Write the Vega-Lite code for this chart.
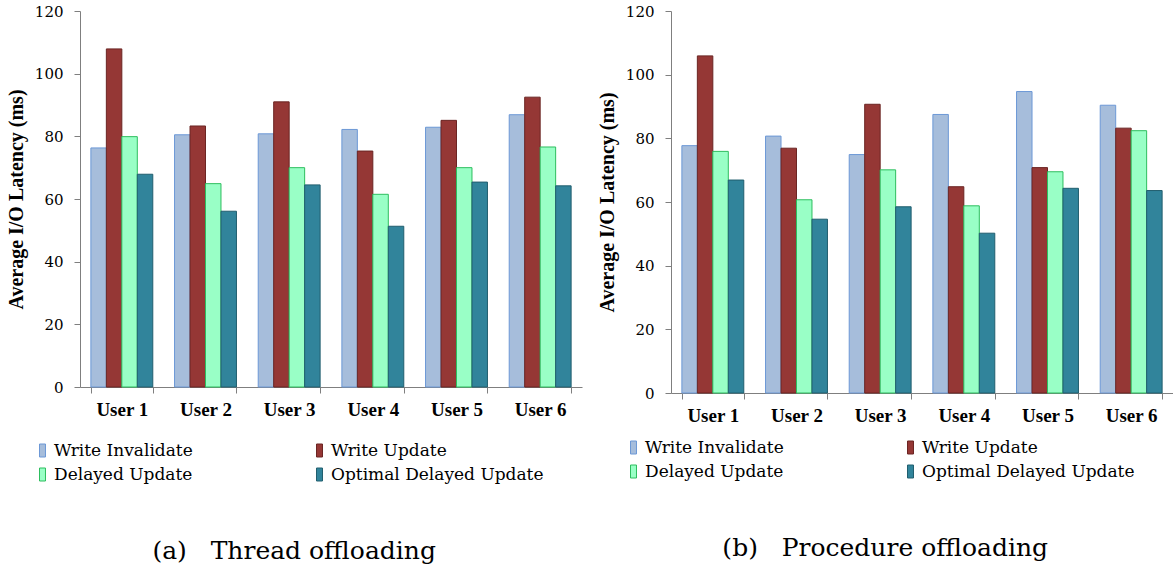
{
  "$schema": "https://vega.github.io/schema/vega-lite/v6.json",
  "padding": {"left": 6, "top": 4, "right": 0, "bottom": 0},
  "background": "white",
  "spacing": 15,
  "config": {
    "view": {"stroke": null},
    "axis": {
      "domainColor": "#7f7f7f",
      "tickColor": "#7f7f7f",
      "tickSize": 6,
      "labelColor": "#000000",
      "titleColor": "#000000",
      "titleFont": "Liberation Serif",
      "grid": false
    },
    "legend": {
      "labelFont": "DejaVu Serif",
      "labelFontSize": 17,
      "labelColor": "#000000",
      "labelLimit": 400
    }
  },
  "data": {
    "values": [
      {"panel": "a", "user": "User 1", "series": "Write Invalidate", "value": 76.3},
      {"panel": "a", "user": "User 1", "series": "Write Update", "value": 107.9},
      {"panel": "a", "user": "User 1", "series": "Delayed Update", "value": 79.9},
      {"panel": "a", "user": "User 1", "series": "Optimal Delayed Update", "value": 67.9},
      {"panel": "a", "user": "User 2", "series": "Write Invalidate", "value": 80.5},
      {"panel": "a", "user": "User 2", "series": "Write Update", "value": 83.3},
      {"panel": "a", "user": "User 2", "series": "Delayed Update", "value": 64.9},
      {"panel": "a", "user": "User 2", "series": "Optimal Delayed Update", "value": 56.1},
      {"panel": "a", "user": "User 3", "series": "Write Invalidate", "value": 80.8},
      {"panel": "a", "user": "User 3", "series": "Write Update", "value": 91.0},
      {"panel": "a", "user": "User 3", "series": "Delayed Update", "value": 70.0},
      {"panel": "a", "user": "User 3", "series": "Optimal Delayed Update", "value": 64.5},
      {"panel": "a", "user": "User 4", "series": "Write Invalidate", "value": 82.2},
      {"panel": "a", "user": "User 4", "series": "Write Update", "value": 75.3},
      {"panel": "a", "user": "User 4", "series": "Delayed Update", "value": 61.5},
      {"panel": "a", "user": "User 4", "series": "Optimal Delayed Update", "value": 51.3},
      {"panel": "a", "user": "User 5", "series": "Write Invalidate", "value": 82.9},
      {"panel": "a", "user": "User 5", "series": "Write Update", "value": 85.1},
      {"panel": "a", "user": "User 5", "series": "Delayed Update", "value": 70.0},
      {"panel": "a", "user": "User 5", "series": "Optimal Delayed Update", "value": 65.4},
      {"panel": "a", "user": "User 6", "series": "Write Invalidate", "value": 86.9},
      {"panel": "a", "user": "User 6", "series": "Write Update", "value": 92.5},
      {"panel": "a", "user": "User 6", "series": "Delayed Update", "value": 76.6},
      {"panel": "a", "user": "User 6", "series": "Optimal Delayed Update", "value": 64.2},
      {"panel": "b", "user": "User 1", "series": "Write Invalidate", "value": 77.7},
      {"panel": "b", "user": "User 1", "series": "Write Update", "value": 105.9},
      {"panel": "b", "user": "User 1", "series": "Delayed Update", "value": 75.9},
      {"panel": "b", "user": "User 1", "series": "Optimal Delayed Update", "value": 66.9},
      {"panel": "b", "user": "User 2", "series": "Write Invalidate", "value": 80.7},
      {"panel": "b", "user": "User 2", "series": "Write Update", "value": 76.9},
      {"panel": "b", "user": "User 2", "series": "Delayed Update", "value": 60.7},
      {"panel": "b", "user": "User 2", "series": "Optimal Delayed Update", "value": 54.6},
      {"panel": "b", "user": "User 3", "series": "Write Invalidate", "value": 74.9},
      {"panel": "b", "user": "User 3", "series": "Write Update", "value": 90.7},
      {"panel": "b", "user": "User 3", "series": "Delayed Update", "value": 70.1},
      {"panel": "b", "user": "User 3", "series": "Optimal Delayed Update", "value": 58.5},
      {"panel": "b", "user": "User 4", "series": "Write Invalidate", "value": 87.5},
      {"panel": "b", "user": "User 4", "series": "Write Update", "value": 64.8},
      {"panel": "b", "user": "User 4", "series": "Delayed Update", "value": 58.8},
      {"panel": "b", "user": "User 4", "series": "Optimal Delayed Update", "value": 50.2},
      {"panel": "b", "user": "User 5", "series": "Write Invalidate", "value": 94.7},
      {"panel": "b", "user": "User 5", "series": "Write Update", "value": 70.8},
      {"panel": "b", "user": "User 5", "series": "Delayed Update", "value": 69.5},
      {"panel": "b", "user": "User 5", "series": "Optimal Delayed Update", "value": 64.3},
      {"panel": "b", "user": "User 6", "series": "Write Invalidate", "value": 90.4},
      {"panel": "b", "user": "User 6", "series": "Write Update", "value": 83.2},
      {"panel": "b", "user": "User 6", "series": "Delayed Update", "value": 82.4},
      {"panel": "b", "user": "User 6", "series": "Optimal Delayed Update", "value": 63.6}
    ]
  },
  "resolve": {
    "scale": {"fill": "independent", "stroke": "independent"},
    "legend": {"fill": "independent", "stroke": "independent"}
  },
  "hconcat": [
    {
      "width": 502,
      "height": 376,
      "transform": [{"filter": "datum.panel == 'a'"}],
      "title": {"text": "(a)\u00a0\u00a0\u00a0Thread offloading", "orient": "bottom", "anchor": "middle", "frame": "bounds", "font": "DejaVu Serif", "fontSize": 25, "fontWeight": "normal", "color": "#000000", "offset": 56},
      "mark": {"type": "bar", "strokeWidth": 1},
      "encoding": {
        "x": {"field": "user", "type": "nominal", "scale": {"paddingInner": 0.26, "paddingOuter": 0.13},
          "axis": {"title": null, "labelAngle": 0, "tickBand": "extent", "labelFont": "Liberation Serif", "labelFontSize": 19, "labelFontWeight": "bold", "labelPadding": 7}},
        "xOffset": {"field": "series", "type": "nominal", "sort": ["Write Invalidate", "Write Update", "Delayed Update", "Optimal Delayed Update"], "scale": {"paddingInner": 0, "paddingOuter": 0}},
        "y": {"field": "value", "type": "quantitative", "scale": {"domain": [0, 120]},
          "axis": {"title": "Average I/O Latency (ms)", "values": [0, 20, 40, 60, 80, 100, 120], "labelFont": "DejaVu Serif", "labelFontSize": 15, "labelPadding": 11, "titleFontSize": 20, "titleFontWeight": "bold", "titlePadding": 8}},
        "fill": {"field": "series", "type": "nominal",
          "scale": {"domain": ["Write Invalidate", "Write Update", "Delayed Update", "Optimal Delayed Update"], "range": ["#A6BDDB", "#953735", "#99FFC6", "#31849B"]},
          "legend": {"title": null, "orient": "none", "direction": "horizontal", "legendX": -46, "legendY": 431, "columns": 2, "symbolType": "M-0.46,-1H0.46V1H-0.46Z", "symbolSize": 169, "symbolStrokeWidth": 1, "labelOffset": 3, "columnPadding": 118, "rowPadding": 6}},
        "stroke": {"field": "series", "type": "nominal",
          "scale": {"domain": ["Write Invalidate", "Write Update", "Delayed Update", "Optimal Delayed Update"], "range": ["#6C98D6", "#6B2523", "#2DBE5E", "#215E6E"]},
          "legend": {"title": null, "orient": "none", "direction": "horizontal", "legendX": -46, "legendY": 431, "columns": 2, "symbolType": "M-0.46,-1H0.46V1H-0.46Z", "symbolSize": 169, "symbolStrokeWidth": 1, "labelOffset": 3, "columnPadding": 118, "rowPadding": 6}}
      }
    },
    {
      "width": 502,
      "height": 382,
      "transform": [{"filter": "datum.panel == 'b'"}],
      "title": {"text": "(b)\u00a0\u00a0\u00a0Procedure offloading", "orient": "bottom", "anchor": "middle", "frame": "bounds", "font": "DejaVu Serif", "fontSize": 25, "fontWeight": "normal", "color": "#000000", "offset": 56},
      "mark": {"type": "bar", "strokeWidth": 1},
      "encoding": {
        "x": {"field": "user", "type": "nominal", "scale": {"paddingInner": 0.26, "paddingOuter": 0.13},
          "axis": {"title": null, "labelAngle": 0, "tickBand": "extent", "labelFont": "Liberation Serif", "labelFontSize": 19, "labelFontWeight": "bold", "labelPadding": 7}},
        "xOffset": {"field": "series", "type": "nominal", "sort": ["Write Invalidate", "Write Update", "Delayed Update", "Optimal Delayed Update"], "scale": {"paddingInner": 0, "paddingOuter": 0}},
        "y": {"field": "value", "type": "quantitative", "scale": {"domain": [0, 120]},
          "axis": {"title": "Average I/O Latency (ms)", "values": [0, 20, 40, 60, 80, 100, 120], "labelFont": "DejaVu Serif", "labelFontSize": 15, "labelPadding": 11, "titleFontSize": 20, "titleFontWeight": "bold", "titlePadding": 8}},
        "fill": {"field": "series", "type": "nominal",
          "scale": {"domain": ["Write Invalidate", "Write Update", "Delayed Update", "Optimal Delayed Update"], "range": ["#A6BDDB", "#953735", "#99FFC6", "#31849B"]},
          "legend": {"title": null, "orient": "none", "direction": "horizontal", "legendX": -46, "legendY": 428, "columns": 2, "symbolType": "M-0.46,-1H0.46V1H-0.46Z", "symbolSize": 169, "symbolStrokeWidth": 1, "labelOffset": 3, "columnPadding": 118, "rowPadding": 6}},
        "stroke": {"field": "series", "type": "nominal",
          "scale": {"domain": ["Write Invalidate", "Write Update", "Delayed Update", "Optimal Delayed Update"], "range": ["#6C98D6", "#6B2523", "#2DBE5E", "#215E6E"]},
          "legend": {"title": null, "orient": "none", "direction": "horizontal", "legendX": -46, "legendY": 428, "columns": 2, "symbolType": "M-0.46,-1H0.46V1H-0.46Z", "symbolSize": 169, "symbolStrokeWidth": 1, "labelOffset": 3, "columnPadding": 118, "rowPadding": 6}}
      }
    }
  ]
}
